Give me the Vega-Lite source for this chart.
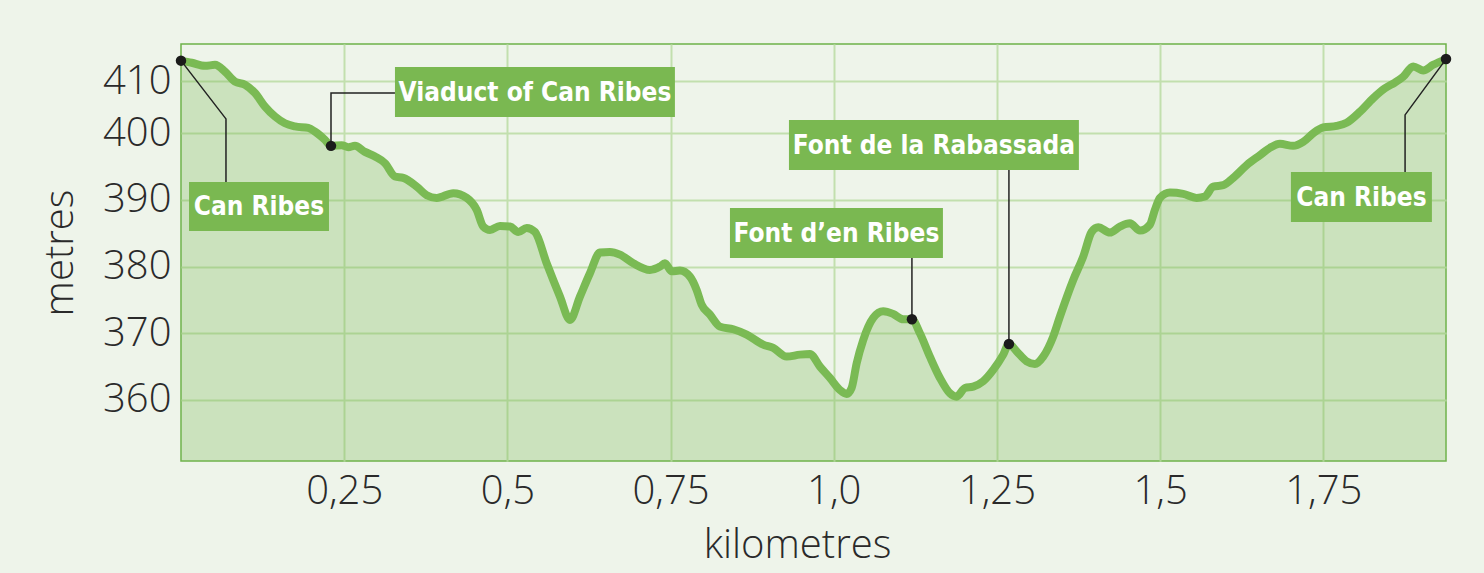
{
  "$schema": "https://vega.github.io/schema/vega-lite/v6.json",
  "autosize": {"type": "none"},
  "width": 1265,
  "height": 417,
  "padding": {"left": 181, "top": 44, "right": 38, "bottom": 112},
  "background": "#eef4ea",
  "config": {
    "view": {"fill": "#eef4ea", "stroke": "#6db14a", "strokeWidth": 1.5},
    "axis": {
      "labelFont": "Open Sans", "labelFontWeight": 300, "labelFontSize": 40, "labelColor": "#2a2a2a",
      "titleFont": "Open Sans", "titleFontWeight": 300, "titleFontSize": 40, "titleColor": "#2a2a2a",
      "ticks": false, "domain": false, "grid": true, "gridColor": "#c2dfae", "gridWidth": 2, "gridOpacity": 1
    }
  },
  "datasets": {
    "profile": [
      {"km": 0, "m": 413.9}, {"km": 0.0164, "m": 413.5}, {"km": 0.0368, "m": 412.9}, {"km": 0.0521, "m": 413.1},
      {"km": 0.0674, "m": 411.8}, {"km": 0.0827, "m": 409.9}, {"km": 0.098, "m": 409.3}, {"km": 0.1134, "m": 407.7},
      {"km": 0.1287, "m": 405.1}, {"km": 0.144, "m": 403.2}, {"km": 0.1593, "m": 401.9}, {"km": 0.1746, "m": 401.3},
      {"km": 0.195, "m": 401.0}, {"km": 0.2053, "m": 400.3}, {"km": 0.2206, "m": 399.0}, {"km": 0.2298, "m": 398.1},
      {"km": 0.2462, "m": 398.2}, {"km": 0.2563, "m": 397.9}, {"km": 0.2665, "m": 398.1}, {"km": 0.2818, "m": 397.2},
      {"km": 0.2972, "m": 396.5}, {"km": 0.3125, "m": 395.5}, {"km": 0.3278, "m": 393.5}, {"km": 0.3405, "m": 393.3},
      {"km": 0.3611, "m": 392.0}, {"km": 0.3764, "m": 390.7}, {"km": 0.3917, "m": 390.3}, {"km": 0.4171, "m": 391.0},
      {"km": 0.4377, "m": 390.3}, {"km": 0.453, "m": 388.5}, {"km": 0.4631, "m": 386.0}, {"km": 0.4734, "m": 385.5},
      {"km": 0.4887, "m": 386.1}, {"km": 0.504, "m": 386.0}, {"km": 0.5167, "m": 385.2}, {"km": 0.5296, "m": 385.8},
      {"km": 0.5423, "m": 385.2}, {"km": 0.5602, "m": 380.5}, {"km": 0.5806, "m": 375.5}, {"km": 0.5959, "m": 372.0},
      {"km": 0.6112, "m": 375.5}, {"km": 0.6265, "m": 379.0}, {"km": 0.6419, "m": 382.1}, {"km": 0.6572, "m": 382.2},
      {"km": 0.6725, "m": 381.8}, {"km": 0.6929, "m": 380.5}, {"km": 0.7184, "m": 379.5}, {"km": 0.7338, "m": 380.0},
      {"km": 0.7414, "m": 380.5}, {"km": 0.7517, "m": 379.3}, {"km": 0.7644, "m": 379.4}, {"km": 0.7797, "m": 378.5},
      {"km": 0.79, "m": 376.5}, {"km": 0.7976, "m": 374.3}, {"km": 0.8104, "m": 372.8}, {"km": 0.8257, "m": 371.0},
      {"km": 0.8461, "m": 370.6}, {"km": 0.8666, "m": 369.8}, {"km": 0.892, "m": 368.3}, {"km": 0.9073, "m": 367.8},
      {"km": 0.9279, "m": 366.5}, {"km": 0.9482, "m": 366.8}, {"km": 0.9635, "m": 366.9}, {"km": 0.9789, "m": 365.0},
      {"km": 0.9942, "m": 363.3}, {"km": 1.0095, "m": 361.5}, {"km": 1.0198, "m": 360.9}, {"km": 1.0274, "m": 361.8},
      {"km": 1.0351, "m": 365.5}, {"km": 1.0452, "m": 369.0}, {"km": 1.0605, "m": 372.3}, {"km": 1.0758, "m": 373.3},
      {"km": 1.0911, "m": 372.9}, {"km": 1.1065, "m": 372.1}, {"km": 1.1198, "m": 372.1}, {"km": 1.132, "m": 370.0},
      {"km": 1.1473, "m": 366.5}, {"km": 1.1627, "m": 363.3}, {"km": 1.178, "m": 361.0}, {"km": 1.1883, "m": 360.5},
      {"km": 1.201, "m": 361.8}, {"km": 1.2137, "m": 362.0}, {"km": 1.229, "m": 362.8}, {"km": 1.2443, "m": 364.5},
      {"km": 1.2597, "m": 366.8}, {"km": 1.2684, "m": 368.4}, {"km": 1.2802, "m": 367.3}, {"km": 1.2955, "m": 365.8},
      {"km": 1.3082, "m": 365.4}, {"km": 1.3209, "m": 366.5}, {"km": 1.3362, "m": 369.5}, {"km": 1.3465, "m": 372.5},
      {"km": 1.3669, "m": 378.0}, {"km": 1.3822, "m": 381.5}, {"km": 1.3951, "m": 385.2}, {"km": 1.4052, "m": 385.9},
      {"km": 1.4231, "m": 385.1}, {"km": 1.4384, "m": 386.0}, {"km": 1.4537, "m": 386.5}, {"km": 1.4691, "m": 385.4},
      {"km": 1.4844, "m": 386.3}, {"km": 1.492, "m": 388.5}, {"km": 1.4997, "m": 390.3}, {"km": 1.515, "m": 391.1},
      {"km": 1.5354, "m": 390.9}, {"km": 1.5559, "m": 390.3}, {"km": 1.5686, "m": 390.5}, {"km": 1.5813, "m": 392.0},
      {"km": 1.5967, "m": 392.2}, {"km": 1.612, "m": 393.3}, {"km": 1.6325, "m": 395.2}, {"km": 1.6529, "m": 396.7},
      {"km": 1.6682, "m": 397.8}, {"km": 1.6835, "m": 398.4}, {"km": 1.7039, "m": 398.1}, {"km": 1.7192, "m": 398.7},
      {"km": 1.7346, "m": 400.0}, {"km": 1.7499, "m": 401.1}, {"km": 1.7704, "m": 401.4}, {"km": 1.7857, "m": 402.0},
      {"km": 1.8061, "m": 404.1}, {"km": 1.8264, "m": 406.7}, {"km": 1.8444, "m": 408.6}, {"km": 1.8597, "m": 409.7},
      {"km": 1.8724, "m": 410.8}, {"km": 1.8877, "m": 412.8}, {"km": 1.903, "m": 412.0}, {"km": 1.9183, "m": 413.1},
      {"km": 1.938, "m": 414.2}
    ],
    "leaders": [
      {"id": 1, "seq": 1, "km": 0, "m": 413.9}, {"id": 1, "seq": 2, "km": 0.0689, "m": 402.74}, {"id": 1, "seq": 3, "km": 0.0689, "m": 392.7},
      {"id": 2, "seq": 1, "km": 0.2298, "m": 398.1}, {"id": 2, "seq": 2, "km": 0.2298, "m": 407.72}, {"id": 2, "seq": 3, "km": 0.3278, "m": 407.72},
      {"id": 3, "seq": 1, "km": 1.1198, "m": 381.3}, {"id": 3, "seq": 2, "km": 1.1198, "m": 372.1},
      {"id": 4, "seq": 1, "km": 1.2684, "m": 394.5}, {"id": 4, "seq": 2, "km": 1.2684, "m": 368.4},
      {"id": 5, "seq": 1, "km": 1.938, "m": 414.2}, {"id": 5, "seq": 2, "km": 1.8753, "m": 403.5}, {"id": 5, "seq": 3, "km": 1.8753, "m": 394.2}
    ],
    "points": [
      {"km": 0, "m": 413.9}, {"km": 0.2298, "m": 398.1}, {"km": 1.1198, "m": 372.1}, {"km": 1.2684, "m": 368.4}, {"km": 1.938, "m": 414.2}
    ],
    "labels": [
      {"text": "Can Ribes", "x1": 0.0123, "x2": 0.2267, "y1": 392.7, "y2": 385.35, "cx": 0.1195, "cy": 389.03},
      {"text": "Viaduct of Can Ribes", "x1": 0.3278, "x2": 0.7567, "y1": 412.7, "y2": 403.12, "cx": 0.5423, "cy": 407.91},
      {"text": "Font d’en Ribes", "x1": 0.841, "x2": 1.1673, "y1": 388.8, "y2": 381.3, "cx": 1.0041, "cy": 385.05},
      {"text": "Font de la Rabassada", "x1": 0.9314, "x2": 1.3756, "y1": 402.55, "y2": 394.5, "cx": 1.1535, "cy": 398.25},
      {"text": "Can Ribes", "x1": 1.7004, "x2": 1.9164, "y1": 394.2, "y2": 386.7, "cx": 1.8084, "cy": 390.45}
    ]
  },
  "encoding": {
    "x": {"field": "km", "type": "quantitative",
      "scale": {"domain": [0, 1.938], "nice": false, "zero": false},
      "axis": {"values": [0.25, 0.5, 0.75, 1, 1.25, 1.5, 1.75],
        "labelExpr": "datum.value === 1 ? '1,0' : replace(toString(datum.value), '.', ',')",
        "labelPadding": 10, "title": "kilometres", "titlePadding": 14, "titleX": 616}},
    "y": {"field": "m", "type": "quantitative",
      "scale": {"domain": [350.85, 400, 410, 417.09], "range": [417, 89.2, 37, 0], "nice": false, "zero": false},
      "axis": {"values": [360, 370, 380, 390, 400, 410], "labelPadding": 10, "title": "metres", "titlePadding": 22}}
  },
  "layer": [
    {"data": {"name": "profile"}, "mark": {"type": "area", "interpolate": "monotone", "fill": "#7ab955", "fillOpacity": 0.3},
      "encoding": {"y2": {"datum": 350.85}}},
    {"data": {"name": "profile"}, "mark": {"type": "line", "interpolate": "monotone", "stroke": "#7aba54", "strokeWidth": 8, "strokeCap": "round", "strokeJoin": "round"}},
    {"data": {"name": "leaders"}, "mark": {"type": "line", "stroke": "#222222", "strokeWidth": 1.5},
      "encoding": {"detail": {"field": "id", "type": "nominal"}, "order": {"field": "seq", "type": "quantitative"}}},
    {"data": {"name": "points"}, "mark": {"type": "circle", "size": 110, "fill": "#1b1b1b", "opacity": 1}},
    {"data": {"name": "labels"}, "mark": {"type": "rect", "fill": "#7ab851"},
      "encoding": {"x": {"field": "x1", "type": "quantitative"}, "x2": {"field": "x2"}, "y": {"field": "y1", "type": "quantitative"}, "y2": {"field": "y2"}}},
    {"data": {"name": "labels"}, "mark": {"type": "text", "font": "DejaVu Sans Condensed, Liberation Sans, sans-serif", "fontWeight": "bold", "fontSize": 26, "fill": "white", "align": "center", "baseline": "middle", "dy": 1},
      "encoding": {"x": {"field": "cx", "type": "quantitative"}, "y": {"field": "cy", "type": "quantitative"}, "text": {"field": "text"}}}
  ]
}
